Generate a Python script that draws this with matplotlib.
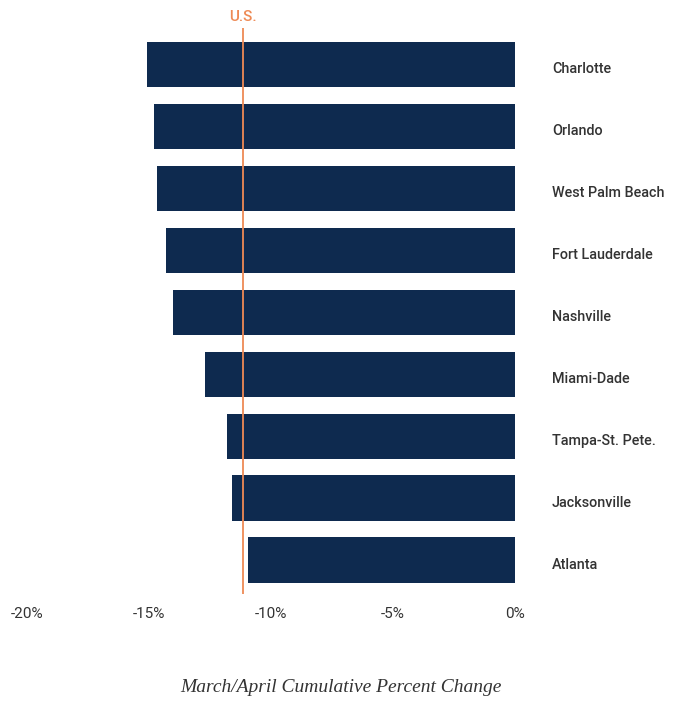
import matplotlib
matplotlib.use("Agg")
import matplotlib.pyplot as plt
from matplotlib.ticker import FuncFormatter
from matplotlib.transforms import ScaledTranslation

# ---- data ----
cities = ["Charlotte", "Orlando", "West Palm Beach", "Fort Lauderdale",
          "Nashville", "Miami-Dade", "Tampa-St. Pete.", "Jacksonville", "Atlanta"]
pct_change = [-15.08, -14.80, -14.67, -14.30, -14.02, -12.70, -11.80, -11.60, -10.94]
us_value = -11.15
x_ticks = [-20, -15, -10, -5, 0]

NAVY = "#0E2A4F"
ORANGE = "#EE8A55"
TEXT = "#333333"

plt.rcParams["font.family"] = ["Roboto", "DejaVu Sans"]

W, H = 681, 702
fig = plt.figure(figsize=(W / 100, H / 100), dpi=100)

# axes box in pixels: x from -20% (27px) to 0% (515px), y from 28px to 594px
left, right, top, bottom = 27, 515, 28, 594
ax = fig.add_axes([left / W, 1 - bottom / H, (right - left) / W, (bottom - top) / H])

pos = list(range(len(cities)))
ax.barh(pos, pct_change, height=0.73, color=NAVY, zorder=2)

ax.axvline(us_value, color=ORANGE, lw=1.3, zorder=3)
ax.text(us_value, -0.66, "U.S.", color=ORANGE, ha="center", va="bottom",
        fontsize=11, fontweight="medium")

ax.set_xlim(-20, 0)
ax.set_ylim(8.548, -0.589)

ax.set_xticks(x_ticks)
ax.xaxis.set_major_formatter(FuncFormatter(lambda v, p: f"{v:.0f}%"))
ax.tick_params(axis="x", length=0, pad=9, labelsize=11, labelcolor=TEXT)

# city names to the right of the bars, nudged a few px below bar centre
ax.set_yticks([])
shift = ScaledTranslation(37 / 100, -5 / 100, fig.dpi_scale_trans)
for p, name in zip(pos, cities):
    ax.text(1, p, name, transform=ax.get_yaxis_transform() + shift,
            ha="left", va="center", fontsize=10.4, fontweight="medium",
            color=TEXT)

for s in ax.spines.values():
    s.set_visible(False)

fig.text(0.5, 1 - 688 / H, "March/April Cumulative Percent Change",
         ha="center", va="center", fontsize=14, style="italic",
         family=["Liberation Serif", "DejaVu Serif"], color=TEXT)

fig.savefig("out.png", dpi=100)
